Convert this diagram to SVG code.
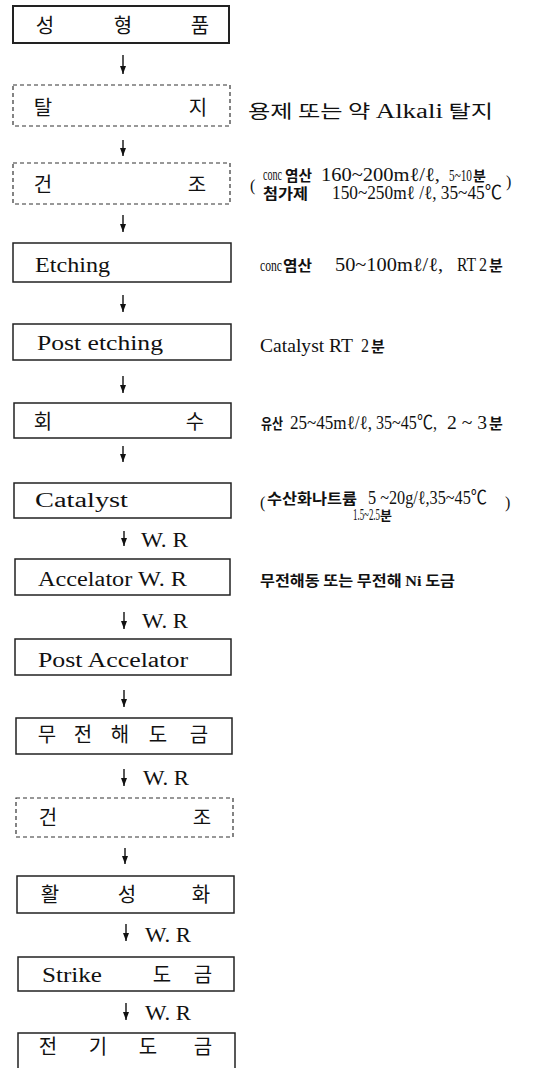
<svg xmlns="http://www.w3.org/2000/svg" width="543" height="1068" viewBox="0 0 543 1068">
<defs>
<marker id="ah" markerWidth="8" markerHeight="6" refX="8" refY="3" orient="auto" markerUnits="userSpaceOnUse" viewBox="0 0 8 6">
<path d="M0,0 L8,3 L0,6 Z" fill="#111"/>
</marker>
<style>
.box{fill:#fff;stroke:#222;stroke-width:1.5}
.dash{fill:#fff;stroke:#333;stroke-width:1.2;stroke-dasharray:4 3}
.ko{font-family:"Noto Sans CJK KR","Noto Sans",sans-serif;font-size:20px;fill:#111;text-anchor:middle}
.en{font-family:"Liberation Serif",serif;font-size:20px;fill:#111}
.side{font-family:"Liberation Serif","Noto Sans CJK KR",serif;font-size:19px;fill:#111}
.sk{font-family:"Noto Sans CJK KR",sans-serif;font-size:15px;fill:#111;font-weight:bold}
.arr{stroke:#111;stroke-width:1.4;fill:none;marker-end:url(#ah)}
.wr{font-family:"Liberation Serif",serif;font-size:20px;fill:#111}
</style>
</defs>
<rect width="543" height="1068" fill="#fff"/>

<g id="connectors">
<line class="arr" x1="123" y1="55" x2="123" y2="74"/>
<line class="arr" x1="123" y1="140" x2="123" y2="156"/>
<line class="arr" x1="123" y1="215" x2="123" y2="232"/>
<line class="arr" x1="123" y1="295" x2="123" y2="312"/>
<line class="arr" x1="123" y1="376" x2="123" y2="393"/>
<line class="arr" x1="123" y1="446" x2="123" y2="462"/>
<line class="arr" x1="124" y1="531" x2="124" y2="546"/>
<text class="wr" x="141" y="547" textLength="47" lengthAdjust="spacingAndGlyphs">W. R</text>
<line class="arr" x1="124" y1="612" x2="124" y2="629"/>
<text class="wr" x="142" y="628" textLength="46" lengthAdjust="spacingAndGlyphs">W. R</text>
<line class="arr" x1="124" y1="690" x2="124" y2="707"/>
<line class="arr" x1="124" y1="769" x2="124" y2="786"/>
<text class="wr" x="143" y="785" textLength="46" lengthAdjust="spacingAndGlyphs">W. R</text>
<line class="arr" x1="125" y1="848" x2="125" y2="864"/>
<line class="arr" x1="126" y1="924" x2="126" y2="941"/>
<text class="wr" x="145" y="942" textLength="46" lengthAdjust="spacingAndGlyphs">W. R</text>
<line class="arr" x1="126" y1="1003" x2="126" y2="1020"/>
<text class="wr" x="145" y="1020" textLength="46" lengthAdjust="spacingAndGlyphs">W. R</text>
</g>

<g id="n1">
<rect class="box" x="13" y="6" width="216" height="37" style="stroke-width:2"/>
<text class="ko" x="45" y="33">성</text><text class="ko" x="123" y="33">형</text><text class="ko" x="200" y="33">품</text>
</g>

<g id="n2">
<rect class="dash" x="13" y="85" width="217" height="41"/>
<text class="ko" x="43" y="115">탈</text><text class="ko" x="198" y="115">지</text>
<text class="sk" x="248" y="118" textLength="245" lengthAdjust="spacingAndGlyphs" style="font-size:18px;font-weight:normal">용제 또는 약 <tspan style="font-family:'Liberation Serif',serif;font-size:20px">Alkali</tspan> 탈지</text>
</g>

<g id="n3">
<rect class="dash" x="13" y="163" width="217" height="41"/>
<text class="ko" x="43" y="192">건</text><text class="ko" x="197" y="192">조</text>
<text class="side" x="250" y="191" style="font-size:16px">(</text>
<text class="side" x="263" y="180" textLength="19" lengthAdjust="spacingAndGlyphs" style="font-size:16px">conc</text>
<text class="sk" x="285" y="181" textLength="27" lengthAdjust="spacingAndGlyphs">염산</text>
<text class="side" x="321" y="181" textLength="119" lengthAdjust="spacingAndGlyphs">160~200mℓ/ℓ,</text>
<text class="side" x="449" y="181" textLength="23" lengthAdjust="spacingAndGlyphs" style="font-size:17px">5~10</text>
<text class="sk" x="473" y="181" style="font-size:14px">분</text>
<text class="sk" x="263" y="199" textLength="45" lengthAdjust="spacingAndGlyphs">첨가제</text>
<text class="side" x="332" y="199" textLength="170" lengthAdjust="spacingAndGlyphs">150~250mℓ /ℓ, 35~45℃</text>
<text class="side" x="506" y="187" style="font-size:16px">)</text>
</g>

<g id="n4">
<rect class="box" x="13" y="243" width="218" height="39"/>
<text class="en" x="35" y="272" textLength="75" lengthAdjust="spacingAndGlyphs">Etching</text>
<text class="side" x="260" y="271" textLength="22" lengthAdjust="spacingAndGlyphs" style="font-size:17px">conc</text>
<text class="sk" x="283" y="271" textLength="29" lengthAdjust="spacingAndGlyphs">염산</text>
<text class="side" x="335" y="271" textLength="108" lengthAdjust="spacingAndGlyphs">50~100mℓ/ℓ,</text>
<text class="side" x="457" y="271" textLength="19" lengthAdjust="spacingAndGlyphs">RT</text>
<text class="side" x="479" y="271" textLength="8" lengthAdjust="spacingAndGlyphs">2</text>
<text class="sk" x="489" y="271">분</text>
</g>

<g id="n5">
<rect class="box" x="13" y="324" width="218" height="36"/>
<text class="en" x="37" y="350" textLength="126" lengthAdjust="spacingAndGlyphs">Post etching</text>
<text class="side" x="260" y="352" textLength="93" lengthAdjust="spacingAndGlyphs">Catalyst RT</text>
<text class="side" x="361" y="352" textLength="8" lengthAdjust="spacingAndGlyphs">2</text>
<text class="sk" x="371" y="352">분</text>
</g>

<g id="n6">
<rect class="box" x="14" y="403" width="217" height="35"/>
<text class="ko" x="43" y="429">회</text><text class="ko" x="195" y="429">수</text>
<text class="sk" x="261" y="429" textLength="22" lengthAdjust="spacingAndGlyphs">유산</text>
<text class="side" x="290" y="429" textLength="82" lengthAdjust="spacingAndGlyphs">25~45mℓ/ℓ,</text>
<text class="side" x="376" y="429" textLength="61" lengthAdjust="spacingAndGlyphs">35~45℃,</text>
<text class="side" x="447" y="429" textLength="40" lengthAdjust="spacingAndGlyphs">2 ~ 3</text>
<text class="sk" x="489" y="429">분</text>
</g>

<g id="n7">
<rect class="box" x="14" y="483" width="217" height="35"/>
<text class="en" x="35" y="507" textLength="93" lengthAdjust="spacingAndGlyphs">Catalyst</text>
<text class="side" x="260" y="508" style="font-size:16px">(</text>
<text class="sk" x="267" y="504" textLength="90" lengthAdjust="spacingAndGlyphs">수산화나트륨</text>
<text class="side" x="368" y="504" textLength="119" lengthAdjust="spacingAndGlyphs">5 ~20g/ℓ,35~45℃</text>
<text class="side" x="505" y="508" style="font-size:16px">)</text>
<text class="side" x="353" y="520" textLength="27" lengthAdjust="spacingAndGlyphs" style="font-size:16px">1.5~2.5</text>
<text class="sk" x="380" y="520" style="font-size:13px">분</text>
</g>

<g id="n8">
<rect class="box" x="15" y="559" width="215" height="36"/>
<text class="en" x="38" y="586" textLength="149" lengthAdjust="spacingAndGlyphs">Accelator W. R</text>
<text class="sk" x="260" y="586" textLength="195" lengthAdjust="spacingAndGlyphs">무전해동 또는 무전해 <tspan style="font-family:'Liberation Serif',serif">Ni</tspan> 도금</text>
</g>

<g id="n9">
<rect class="box" x="15" y="639" width="216" height="36"/>
<text class="en" x="38" y="667" textLength="150" lengthAdjust="spacingAndGlyphs">Post Accelator</text>
</g>

<g id="n10">
<rect class="box" x="16" y="718" width="216" height="36"/>
<text class="ko" x="47" y="742">무</text><text class="ko" x="83" y="742">전</text><text class="ko" x="120" y="742">해</text><text class="ko" x="158" y="742">도</text><text class="ko" x="199" y="742">금</text>
</g>

<g id="n11">
<rect class="dash" x="16" y="798" width="217" height="39"/>
<text class="ko" x="48" y="825">건</text><text class="ko" x="202" y="825">조</text>
</g>

<g id="n12">
<rect class="box" x="17" y="876" width="217" height="37"/>
<text class="ko" x="50" y="902">활</text><text class="ko" x="127" y="902">성</text><text class="ko" x="201" y="902">화</text>
</g>

<g id="n13">
<rect class="box" x="18" y="957" width="216" height="34"/>
<text class="en" x="42" y="982" textLength="60" lengthAdjust="spacingAndGlyphs">Strike</text>
<text class="ko" x="162" y="982">도</text><text class="ko" x="203" y="982">금</text>
</g>

<g id="n14">
<path class="box" d="M18,1070 L18,1033 L235,1033 L235,1070"/>
<text class="ko" x="48" y="1054">전</text><text class="ko" x="98" y="1054">기</text><text class="ko" x="148" y="1054">도</text><text class="ko" x="203" y="1054">금</text>
</g>
</svg>
